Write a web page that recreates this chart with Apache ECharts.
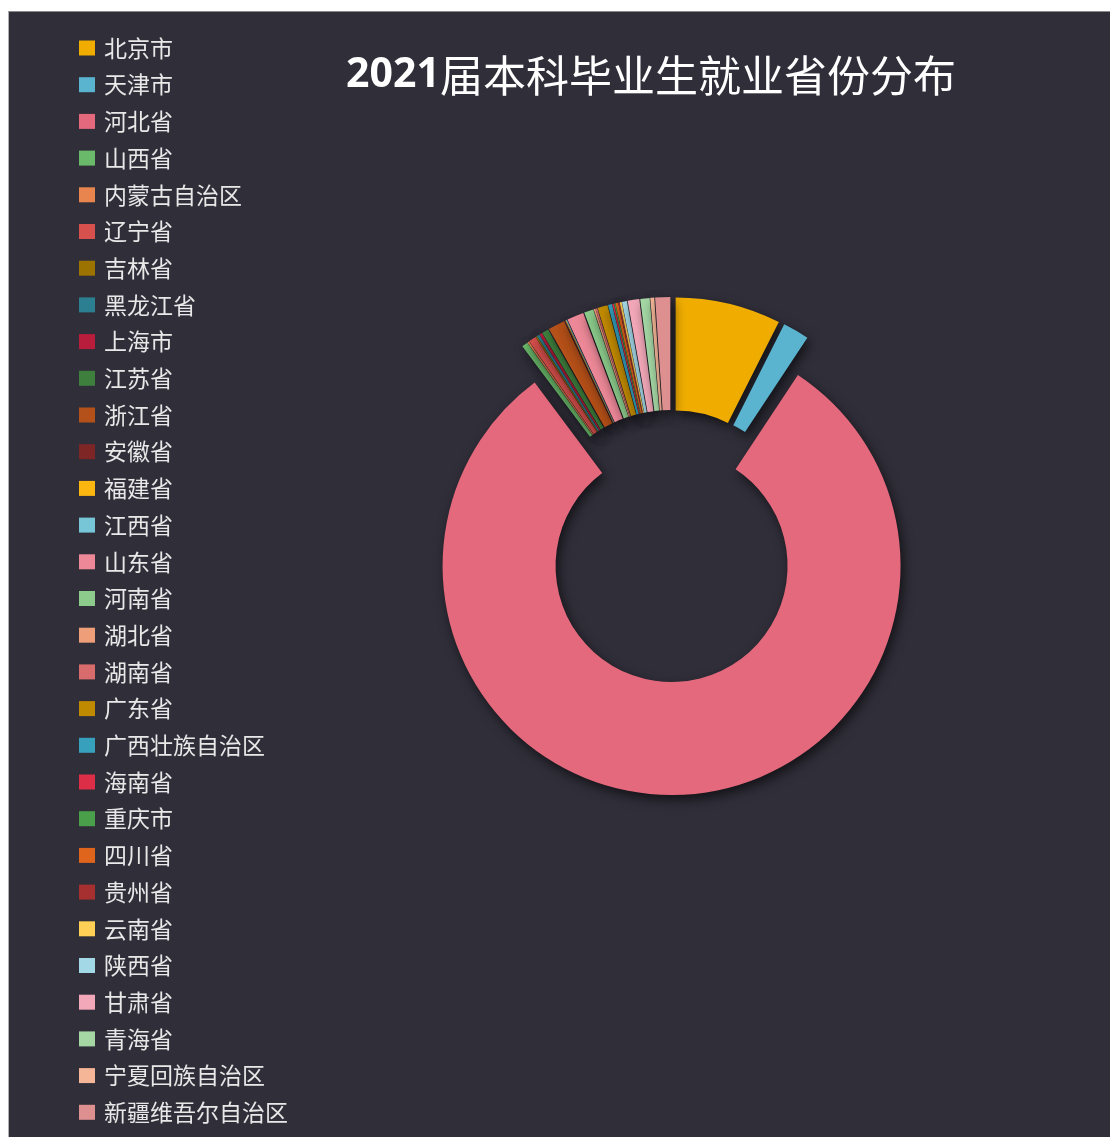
<!DOCTYPE html>
<html>
<head>
<meta charset="utf-8">
<style>
  html, body { margin: 0; padding: 0; background: #fff; }
  #main {
    position: absolute; left: 8px; top: 11px;
    width: 1102px; height: 1126px;
    border-top: 1px solid #8a8a8a; border-left: 1px solid #b0b0b0;
    box-sizing: border-box;
  }
</style>
<script src="https://cdn.jsdelivr.net/npm/echarts@6/dist/echarts.min.js"></script>
</head>
<body>
<div id="main"></div>
<script>
// 省份名称（按图例顺序）
var provinces = ['北京市', '天津市', '河北省', '山西省', '内蒙古自治区', '辽宁省', '吉林省', '黑龙江省',
    '上海市', '江苏省', '浙江省', '安徽省', '福建省', '江西省', '山东省', '河南省', '湖北省', '湖南省',
    '广东省', '广西壮族自治区', '海南省', '重庆市', '四川省', '贵州省', '云南省', '陕西省', '甘肃省',
    '青海省', '宁夏回族自治区', '新疆维吾尔自治区'];
// 就业占比（%）
var shares = [7.44, 1.86, 80.5, 0.42, 0.12, 0.52, 0.09, 0.19,
    0.19, 0.47, 1.18, 0.05, 0.05, 0.05, 1.18, 0.66, 0.12, 0.12,
    0.71, 0.28, 0.12, 0.09, 0.19, 0.09, 0.14, 0.35, 0.82,
    0.66, 0.28, 1.06];
var colors = ['#f0ad00', '#5ab4cf', '#e4697c', '#6ab86a', '#e8854f', '#d6504d', '#9c7200', '#2c7f90',
    '#b81d3b', '#3e7f3e', '#b4501a', '#7e2626', '#fbb710', '#76c6d8', '#ec8898', '#8ccb8c', '#ee9e78', '#d86c6c',
    '#c08a00', '#36a0bd', '#dc2f47', '#4aa04a', '#e0651c', '#a63030', '#ffd055', '#a3d8e6', '#f2a8b8',
    '#a5d7a5', '#f5b697', '#de9090'];

var pieData = [];
for (var i = 0; i < provinces.length; i++) {
    pieData.push({
        name: provinces[i],
        value: shares[i],
        selected: true
    });
}

var myChart = echarts.init(document.getElementById('main'));
var option = {
    backgroundColor: '#302e39',
    animation: false,
    color: colors,
    title: {
        text: '{a|2021}{b|届本科毕业生就业省份分布}',
        left: 637,
        top: 37,
        textAlign: 'center',
        textStyle: {
            rich: {
                a: { color: '#fff', fontSize: 41, fontWeight: 'bold', fontFamily: 'Noto Sans' },
                b: { color: '#fff', fontSize: 43, fontWeight: 'normal', fontFamily: 'Noto Sans CJK SC' }
            }
        }
    },
    legend: {
        orient: 'vertical',
        left: 65,
        top: 19,
        height: 1100,
        itemWidth: 16,
        itemHeight: 15,
        itemGap: 12.7,
        icon: 'rect',
        itemStyle: { shadowBlur: 0, shadowColor: 'transparent', shadowOffsetX: 0, shadowOffsetY: 0 },
        textStyle: {
            color: '#e8e8e8',
            fontSize: 23,
            lineHeight: 24,
            fontFamily: 'Noto Sans CJK SC',
            padding: [0, 0, 0, 4]
        },
        data: provinces
    },
    series: [
        {
            type: 'pie',
            center: [662, 534],
            radius: [116, 229],
            startAngle: 90,
            clockwise: true,
            selectedMode: 'multiple',
            selectedOffset: 20,
            label: { show: false },
            labelLine: { show: false },
            emphasis: { disabled: true },
            itemStyle: {
                shadowBlur: 12,
                shadowColor: 'rgba(0, 0, 0, 0.6)',
                shadowOffsetX: 3,
                shadowOffsetY: 5
            },
            data: pieData
        }
    ]
};
myChart.setOption(option);
</script>
</body>
</html>
